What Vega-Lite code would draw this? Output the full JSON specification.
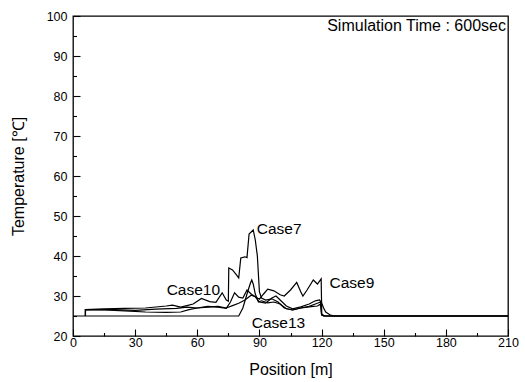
{
  "$schema": "https://vega.github.io/schema/vega-lite/v6.json",
  "autosize": "none",
  "width": 435,
  "height": 320,
  "padding": {"left": 73, "top": 16, "right": 17, "bottom": 46},
  "background": "white",
  "config": {
    "view": {"stroke": "black", "strokeWidth": 1.3},
    "font": "Liberation Sans",
    "axis": {"domain": false, "grid": false, "ticks": true, "labelFont": "Liberation Sans", "titleFont": "Liberation Sans", "labelColor": "black", "titleColor": "black", "tickColor": "black", "tickOpacity": 1, "titleFontWeight": "normal", "labelOverlap": false, "labelBound": false, "labelFlush": false, "zindex": 1}
  },
  "datasets": {
    "curves": [
      {"c": "Case13", "x": 0, "t": 25}, {"c": "Case13", "x": 80, "t": 25}, {"c": "Case13", "x": 82, "t": 27}, {"c": "Case13", "x": 84, "t": 30.5}, {"c": "Case13", "x": 85.5, "t": 33}, {"c": "Case13", "x": 86.3, "t": 34}, {"c": "Case13", "x": 87, "t": 33}, {"c": "Case13", "x": 88, "t": 30.5}, {"c": "Case13", "x": 89.5, "t": 28.5}, {"c": "Case13", "x": 91, "t": 28.8}, {"c": "Case13", "x": 94, "t": 28.3}, {"c": "Case13", "x": 97, "t": 28.5}, {"c": "Case13", "x": 100, "t": 28.0}, {"c": "Case13", "x": 103, "t": 26.8}, {"c": "Case13", "x": 106, "t": 26.5}, {"c": "Case13", "x": 110, "t": 27.0}, {"c": "Case13", "x": 114, "t": 27.4}, {"c": "Case13", "x": 117, "t": 28.0}, {"c": "Case13", "x": 119.5, "t": 28.5}, {"c": "Case13", "x": 120, "t": 25.3}, {"c": "Case13", "x": 121, "t": 25}, {"c": "Case13", "x": 210, "t": 25},

      {"c": "Case7", "x": 6, "t": 25}, {"c": "Case7", "x": 6.01, "t": 26.6}, {"c": "Case7", "x": 15, "t": 26.8}, {"c": "Case7", "x": 25, "t": 26.9}, {"c": "Case7", "x": 35, "t": 27.0}, {"c": "Case7", "x": 45, "t": 27.5}, {"c": "Case7", "x": 48, "t": 27.7}, {"c": "Case7", "x": 52, "t": 27.2}, {"c": "Case7", "x": 55, "t": 27.6}, {"c": "Case7", "x": 58, "t": 28.0}, {"c": "Case7", "x": 62, "t": 29.4}, {"c": "Case7", "x": 66, "t": 28.6}, {"c": "Case7", "x": 69, "t": 28.4}, {"c": "Case7", "x": 72, "t": 30.8}, {"c": "Case7", "x": 74, "t": 29.0}, {"c": "Case7", "x": 75, "t": 28.7}, {"c": "Case7", "x": 75.2, "t": 37.0}, {"c": "Case7", "x": 77, "t": 36.5}, {"c": "Case7", "x": 79, "t": 35.2}, {"c": "Case7", "x": 80, "t": 34.5}, {"c": "Case7", "x": 81, "t": 39.5}, {"c": "Case7", "x": 83, "t": 39.8}, {"c": "Case7", "x": 84, "t": 39.6}, {"c": "Case7", "x": 85, "t": 45.5}, {"c": "Case7", "x": 87, "t": 46.5}, {"c": "Case7", "x": 88, "t": 44}, {"c": "Case7", "x": 89, "t": 40}, {"c": "Case7", "x": 90, "t": 31}, {"c": "Case7", "x": 91, "t": 29.5}, {"c": "Case7", "x": 93, "t": 29}, {"c": "Case7", "x": 96, "t": 29.3}, {"c": "Case7", "x": 99, "t": 28.5}, {"c": "Case7", "x": 102, "t": 27}, {"c": "Case7", "x": 106, "t": 26.5}, {"c": "Case7", "x": 110, "t": 27}, {"c": "Case7", "x": 114, "t": 27.3}, {"c": "Case7", "x": 118, "t": 27.5}, {"c": "Case7", "x": 119.5, "t": 28}, {"c": "Case7", "x": 120, "t": 25.5}, {"c": "Case7", "x": 121, "t": 25.2}, {"c": "Case7", "x": 122, "t": 25}, {"c": "Case7", "x": 210, "t": 25},

      {"c": "Case9", "x": 6, "t": 25}, {"c": "Case9", "x": 6.01, "t": 26.6}, {"c": "Case9", "x": 20, "t": 26.6}, {"c": "Case9", "x": 30, "t": 26.4}, {"c": "Case9", "x": 40, "t": 26.7}, {"c": "Case9", "x": 50, "t": 26.9}, {"c": "Case9", "x": 55, "t": 27.2}, {"c": "Case9", "x": 60, "t": 27.0}, {"c": "Case9", "x": 65, "t": 27.4}, {"c": "Case9", "x": 70, "t": 27.2}, {"c": "Case9", "x": 74, "t": 26.9}, {"c": "Case9", "x": 76, "t": 28.5}, {"c": "Case9", "x": 78, "t": 30.8}, {"c": "Case9", "x": 80, "t": 29.7}, {"c": "Case9", "x": 82, "t": 29.5}, {"c": "Case9", "x": 84, "t": 31.5}, {"c": "Case9", "x": 86, "t": 30.5}, {"c": "Case9", "x": 88, "t": 29.8}, {"c": "Case9", "x": 90, "t": 29.2}, {"c": "Case9", "x": 92, "t": 30.5}, {"c": "Case9", "x": 94, "t": 31.7}, {"c": "Case9", "x": 97, "t": 31.3}, {"c": "Case9", "x": 100, "t": 30.3}, {"c": "Case9", "x": 102, "t": 30.0}, {"c": "Case9", "x": 105, "t": 31.5}, {"c": "Case9", "x": 108, "t": 33.4}, {"c": "Case9", "x": 110, "t": 31}, {"c": "Case9", "x": 111, "t": 30}, {"c": "Case9", "x": 113, "t": 31.5}, {"c": "Case9", "x": 116, "t": 34}, {"c": "Case9", "x": 118, "t": 33}, {"c": "Case9", "x": 119.8, "t": 34.3}, {"c": "Case9", "x": 120.1, "t": 25.2}, {"c": "Case9", "x": 121, "t": 25}, {"c": "Case9", "x": 210, "t": 25},

      {"c": "Case10", "x": 6, "t": 25}, {"c": "Case10", "x": 6.01, "t": 26.6}, {"c": "Case10", "x": 15, "t": 26.5}, {"c": "Case10", "x": 25, "t": 26.3}, {"c": "Case10", "x": 35, "t": 26.0}, {"c": "Case10", "x": 45, "t": 25.9}, {"c": "Case10", "x": 52, "t": 26.0}, {"c": "Case10", "x": 56, "t": 26.6}, {"c": "Case10", "x": 60, "t": 27.0}, {"c": "Case10", "x": 65, "t": 27.2}, {"c": "Case10", "x": 70, "t": 27.4}, {"c": "Case10", "x": 74, "t": 27.0}, {"c": "Case10", "x": 77, "t": 27.6}, {"c": "Case10", "x": 80, "t": 28.2}, {"c": "Case10", "x": 83, "t": 29.0}, {"c": "Case10", "x": 86, "t": 30.2}, {"c": "Case10", "x": 88, "t": 29.8}, {"c": "Case10", "x": 90, "t": 28.5}, {"c": "Case10", "x": 93, "t": 28.2}, {"c": "Case10", "x": 96, "t": 29.5}, {"c": "Case10", "x": 98, "t": 30.0}, {"c": "Case10", "x": 100, "t": 29.0}, {"c": "Case10", "x": 103, "t": 27.5}, {"c": "Case10", "x": 106, "t": 26.8}, {"c": "Case10", "x": 110, "t": 27.3}, {"c": "Case10", "x": 114, "t": 28.0}, {"c": "Case10", "x": 117, "t": 28.8}, {"c": "Case10", "x": 119, "t": 29.0}, {"c": "Case10", "x": 120, "t": 28.3}, {"c": "Case10", "x": 121, "t": 27.0}, {"c": "Case10", "x": 122, "t": 26.0}, {"c": "Case10", "x": 124, "t": 25.3}, {"c": "Case10", "x": 126, "t": 25}, {"c": "Case10", "x": 210, "t": 25}
    ],
    "labels": [
      {"label": "Case7", "x": 88.7, "t": 46.8},
      {"label": "Case9", "x": 123.8, "t": 33.2},
      {"label": "Case10", "x": 45.2, "t": 31.5},
      {"label": "Case13", "x": 86.3, "t": 23.2}
    ],
    "note": [{"label": "Simulation Time : 600sec", "x": 209, "t": 97.5}]
  },
  "encoding": {
    "x": {"field": "x", "type": "quantitative", "scale": {"domain": [0, 210], "nice": false},
      "axis": {"values": [0, 15, 30, 45, 60, 75, 90, 105, 120, 135, 150, 165, 180, 195, 210],
        "labelExpr": "datum.value % 30 == 0 ? format(datum.value, 'd') : ''",
        "labelOverlap": false,
        "tickSize": -7, "tickWidth": 1.1,
        "tickDash": {"condition": {"test": "datum.value % 30 == 0", "value": [7, 0]}, "value": [3.5, 20]},
        "labelPadding": 7, "labelFontSize": 12.5, "title": "Position [m]", "titleFontSize": 16, "titlePadding": 13}},
    "y": {"field": "t", "type": "quantitative", "scale": {"domain": [20, 100], "nice": false},
      "axis": {"values": [20, 25, 30, 35, 40, 45, 50, 55, 60, 65, 70, 75, 80, 85, 90, 95, 100],
        "labelExpr": "datum.value % 10 == 0 ? format(datum.value, 'd') : ''",
        "labelOverlap": false,
        "tickSize": -7, "tickWidth": 1.1,
        "tickDash": {"condition": {"test": "datum.value % 10 == 0", "value": [7, 0]}, "value": [3.5, 20]},
        "labelPadding": 13, "labelFontSize": 12.5, "title": "Temperature [℃]", "titleFontSize": 16, "titlePadding": 20}}
  },
  "layer": [
    {
      "data": {"name": "curves"},
      "mark": {"type": "line", "color": "black", "strokeWidth": 1.2, "clip": true},
      "encoding": {
        "detail": {"field": "c"}
      }
    },
    {
      "data": {"name": "labels"},
      "mark": {"type": "text", "align": "left", "baseline": "middle", "fontSize": 15.5, "color": "black"},
      "encoding": {
        "text": {"field": "label"}
      }
    },
    {
      "data": {"name": "note"},
      "mark": {"type": "text", "align": "right", "baseline": "middle", "fontSize": 16, "color": "black"},
      "encoding": {
        "text": {"field": "label"}
      }
    }
  ]
}
